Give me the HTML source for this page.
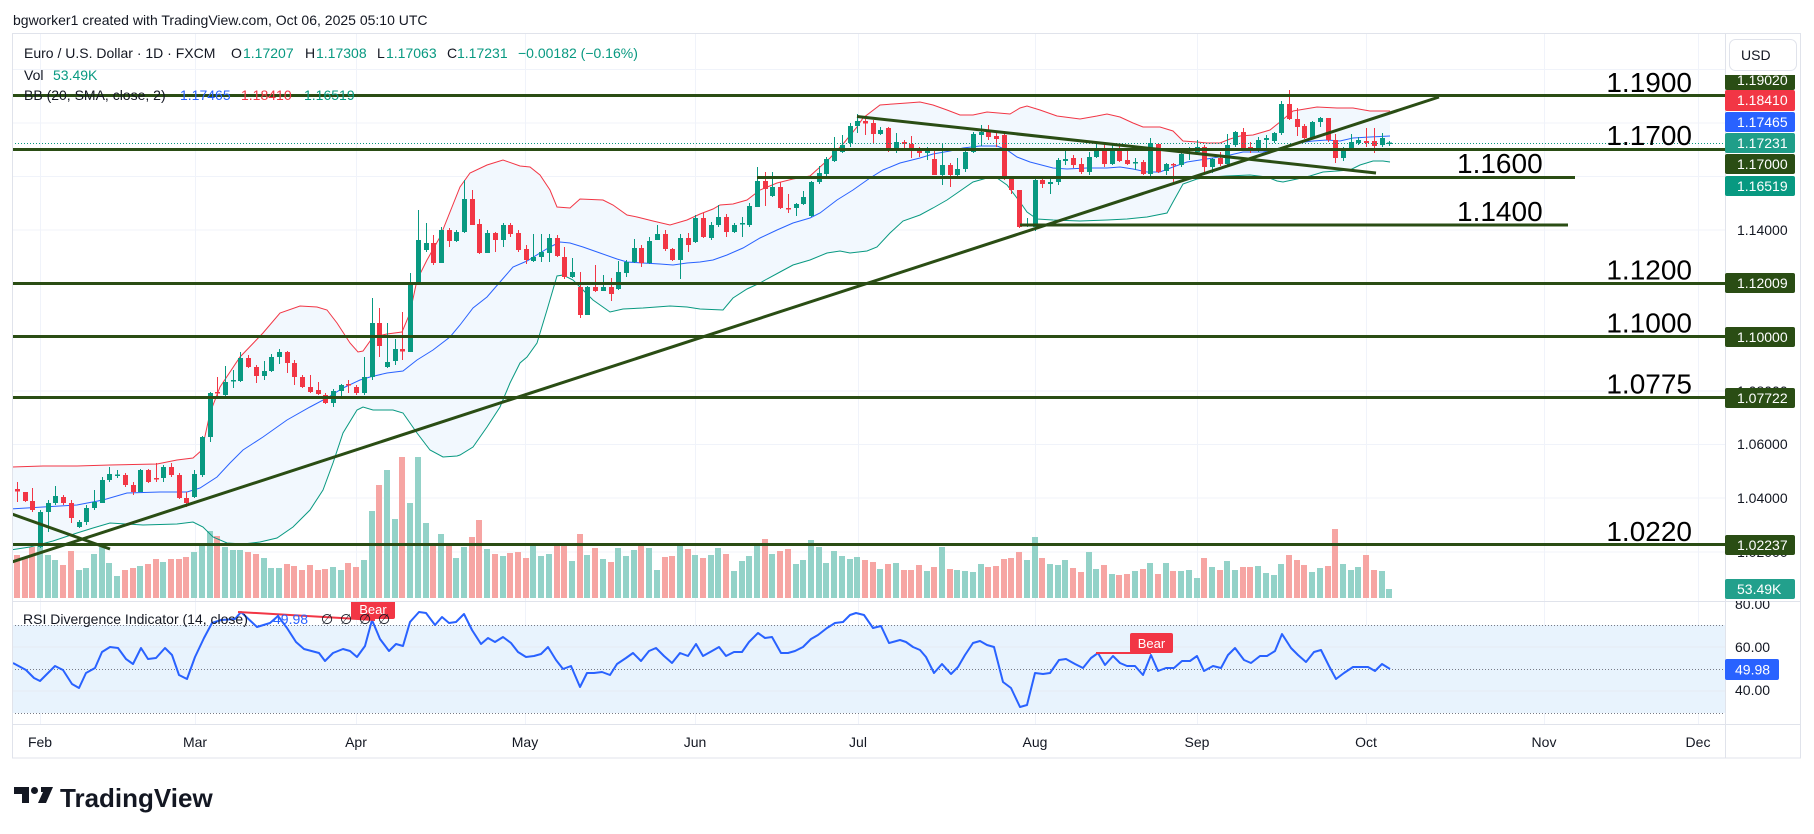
<!DOCTYPE html>
<html><head><meta charset="utf-8">
<style>
html,body{margin:0;padding:0;background:#fff;}
svg{display:block;font-family:"Liberation Sans","DejaVu Sans",sans-serif;}
</style></head>
<body>
<svg width="1814" height="834" viewBox="0 0 1814 834">
<defs>
<clipPath id="cp"><rect x="12" y="33" width="1713" height="568"/></clipPath>
<clipPath id="cr"><rect x="12" y="601" width="1713" height="123"/></clipPath>
<clipPath id="ca"><rect x="1725" y="75" width="76" height="526"/></clipPath>
<clipPath id="cra"><rect x="1725" y="601" width="76" height="123"/></clipPath>
</defs>
<rect width="1814" height="834" fill="#fff"/>

<!-- grid -->
<g stroke="#f0f3fa" stroke-width="1">
<line x1="12" y1="69.5" x2="1725" y2="69.5"/>
<line x1="12" y1="123" x2="1725" y2="123"/>
<line x1="12" y1="176.5" x2="1725" y2="176.5"/>
<line x1="12" y1="230" x2="1725" y2="230"/>
<line x1="12" y1="284" x2="1725" y2="284"/>
<line x1="12" y1="337.5" x2="1725" y2="337.5"/>
<line x1="12" y1="391" x2="1725" y2="391"/>
<line x1="12" y1="444.5" x2="1725" y2="444.5"/>
<line x1="12" y1="498" x2="1725" y2="498"/>
<line x1="12" y1="552" x2="1725" y2="552"/>
<line x1="40.5" y1="33" x2="40.5" y2="724"/>
<line x1="195.5" y1="33" x2="195.5" y2="724"/>
<line x1="356.5" y1="33" x2="356.5" y2="724"/>
<line x1="525.5" y1="33" x2="525.5" y2="724"/>
<line x1="695.5" y1="33" x2="695.5" y2="724"/>
<line x1="858.5" y1="33" x2="858.5" y2="724"/>
<line x1="1035.5" y1="33" x2="1035.5" y2="724"/>
<line x1="1197.5" y1="33" x2="1197.5" y2="724"/>
<line x1="1366.5" y1="33" x2="1366.5" y2="724"/>
<line x1="1544.5" y1="33" x2="1544.5" y2="724"/>
<line x1="1698.5" y1="33" x2="1698.5" y2="724"/>
</g>

<!-- RSI band -->
<rect x="12" y="625" width="1713" height="88" fill="#e8f3fd"/>
<g stroke="#e6ebf3" stroke-width="1">
<line x1="12" y1="647" x2="1725" y2="647"/>
<line x1="12" y1="691" x2="1725" y2="691"/>
</g>
<g stroke="#787b86" stroke-width="1" stroke-dasharray="1,2">
<line x1="12" y1="625.5" x2="1725" y2="625.5"/>
<line x1="12" y1="669.5" x2="1725" y2="669.5"/>
<line x1="12" y1="713.5" x2="1725" y2="713.5"/>
</g>

<!-- price pane content -->
<g clip-path="url(#cp)">
<polygon fill="#f2f8fe" points="10,467 43,466 77,466 110,465 157,464 177,460 193,458 202,450 210,413 220,387 240,357 263,333 280,313 300,306 317,307 327,310 337,323 350,343 358,352 363,351 373,337 387,334 402,332 410,313 417,280 427,260 440,237 460,187 470,173 487,165 503,160 520,166 530,167 540,175 550,190 557,207 570,208 580,199 603,200 613,205 627,215 637,217 653,221 670,225 687,220 700,214 713,209 720,205 733,204 747,200 760,190 777,183 793,179 810,176 820,167 830,158 843,144 857,127 863,118 880,105 893,104 907,103 920,102 933,105 947,110 960,115 973,115 987,112 1010,114 1020,108 1027,106 1040,110 1057,116 1080,119 1097,116 1107,114 1120,117 1133,123 1143,127 1160,127 1173,131 1183,141 1197,142 1207,143 1220,143 1230,139 1240,136 1253,135 1270,130 1280,122 1293,111 1317,107 1337,108 1353,108 1370,111 1390,111 1390,162 1383,161 1373,161 1360,165 1350,170 1337,171 1323,172 1310,176 1297,179 1283,182 1277,181 1267,177 1250,175 1227,176 1210,177 1197,179 1183,184 1173,202 1167,213 1147,217 1127,219 1107,220 1080,221 1053,220 1037,219 1027,212 1020,202 1007,185 997,178 987,178 973,182 960,191 947,200 933,208 920,215 903,221 890,233 877,247 867,251 850,253 840,251 827,253 810,260 793,265 780,272 767,279 760,283 747,289 733,298 723,310 700,309 687,307 670,306 643,308 623,309 610,312 593,300 583,290 573,280 563,275 557,276 547,310 537,343 527,357 520,363 510,383 500,407 487,427 473,447 460,455 457,456 443,457 430,450 417,433 403,413 393,410 373,410 363,407 357,410 343,433 333,463 323,490 310,510 293,527 277,538 260,542 243,544 227,543 213,537 203,527 193,522 177,524 143,525 110,523 93,528 77,533 53,541 30,547 10,550"/>

<path fill="#93d2c8" d="M37,545h6V598h-6zM45,555h6V598h-6zM52,560h6V598h-6zM76,570h6V598h-6zM83,568h6V598h-6zM91,554h6V598h-6zM99,547h6V598h-6zM106,563h6V598h-6zM114,576h6V598h-6zM137,566h6V598h-6zM160,562h6V598h-6zM191,552h6V598h-6zM199,546h6V598h-6zM207,531h6V598h-6zM222,547h6V598h-6zM230,550h6V598h-6zM237,550h6V598h-6zM261,558h6V598h-6zM268,568h6V598h-6zM276,568h6V598h-6zM330,567h6V598h-6zM338,570h6V598h-6zM361,560h6V598h-6zM369,511h6V598h-6zM384,470h6V598h-6zM392,519h6V598h-6zM407,503h6V598h-6zM415,457h6V598h-6zM423,523h6V598h-6zM438,534h6V598h-6zM453,558h6V598h-6zM461,547h6V598h-6zM484,549h6V598h-6zM500,556h6V598h-6zM530,545h6V598h-6zM538,556h6V598h-6zM546,554h6V598h-6zM569,561h6V598h-6zM584,555h6V598h-6zM600,559h6V598h-6zM615,548h6V598h-6zM623,556h6V598h-6zM631,550h6V598h-6zM646,548h6V598h-6zM654,570h6V598h-6zM677,545h6V598h-6zM692,555h6V598h-6zM708,555h6V598h-6zM715,548h6V598h-6zM731,571h6V598h-6zM739,561h6V598h-6zM746,556h6V598h-6zM754,545h6V598h-6zM769,554h6V598h-6zM793,564h6V598h-6zM800,560h6V598h-6zM808,540h6V598h-6zM816,547h6V598h-6zM823,563h6V598h-6zM831,551h6V598h-6zM839,556h6V598h-6zM847,559h6V598h-6zM854,557h6V598h-6zM877,569h6V598h-6zM893,563h6V598h-6zM924,571h6V598h-6zM939,547h6V598h-6zM954,570h6V598h-6zM962,571h6V598h-6zM970,572h6V598h-6zM978,564h6V598h-6zM1024,560h6V598h-6zM1032,537h6V598h-6zM1047,564h6V598h-6zM1055,565h6V598h-6zM1062,560h6V598h-6zM1086,552h6V598h-6zM1093,569h6V598h-6zM1109,574h6V598h-6zM1132,571h6V598h-6zM1147,563h6V598h-6zM1163,563h6V598h-6zM1178,571h6V598h-6zM1186,570h6V598h-6zM1194,578h6V598h-6zM1209,567h6V598h-6zM1224,561h6V598h-6zM1232,570h6V598h-6zM1255,566h6V598h-6zM1263,573h6V598h-6zM1271,575h6V598h-6zM1278,564h6V598h-6zM1309,572h6V598h-6zM1317,568h6V598h-6zM1340,564h6V598h-6zM1348,570h6V598h-6zM1355,567h6V598h-6zM1379,571h6V598h-6zM1386,589h6V598h-6z"/>
<path fill="#f6a5a3" d="M14,555h6V598h-6zM22,557h6V598h-6zM29,547h6V598h-6zM60,565h6V598h-6zM68,551h6V598h-6zM122,570h6V598h-6zM130,568h6V598h-6zM145,564h6V598h-6zM153,559h6V598h-6zM168,559h6V598h-6zM176,559h6V598h-6zM183,557h6V598h-6zM214,536h6V598h-6zM245,552h6V598h-6zM253,554h6V598h-6zM284,564h6V598h-6zM291,566h6V598h-6zM299,570h6V598h-6zM307,565h6V598h-6zM315,570h6V598h-6zM322,569h6V598h-6zM345,563h6V598h-6zM353,567h6V598h-6zM376,485h6V598h-6zM399,457h6V598h-6zM430,545h6V598h-6zM446,544h6V598h-6zM469,537h6V598h-6zM476,520h6V598h-6zM492,554h6V598h-6zM507,553h6V598h-6zM515,552h6V598h-6zM523,558h6V598h-6zM554,545h6V598h-6zM561,545h6V598h-6zM577,534h6V598h-6zM592,548h6V598h-6zM608,562h6V598h-6zM638,545h6V598h-6zM662,557h6V598h-6zM669,556h6V598h-6zM685,549h6V598h-6zM700,558h6V598h-6zM723,554h6V598h-6zM762,539h6V598h-6zM777,551h6V598h-6zM785,549h6V598h-6zM862,560h6V598h-6zM870,562h6V598h-6zM885,564h6V598h-6zM901,570h6V598h-6zM908,570h6V598h-6zM916,565h6V598h-6zM931,567h6V598h-6zM947,569h6V598h-6zM985,567h6V598h-6zM993,566h6V598h-6zM1001,559h6V598h-6zM1008,558h6V598h-6zM1016,552h6V598h-6zM1039,558h6V598h-6zM1070,568h6V598h-6zM1078,572h6V598h-6zM1101,565h6V598h-6zM1116,575h6V598h-6zM1124,574h6V598h-6zM1140,569h6V598h-6zM1155,574h6V598h-6zM1170,571h6V598h-6zM1201,558h6V598h-6zM1217,570h6V598h-6zM1240,567h6V598h-6zM1247,567h6V598h-6zM1286,555h6V598h-6zM1294,560h6V598h-6zM1301,565h6V598h-6zM1325,566h6V598h-6zM1332,529h6V598h-6zM1363,555h6V598h-6zM1371,570h6V598h-6z"/>

<polyline fill="none" stroke="#f23645" stroke-width="1" points="10,467 43,466 77,466 110,465 157,464 177,460 193,458 202,450 210,413 220,387 240,357 263,333 280,313 300,306 317,307 327,310 337,323 350,343 358,352 363,351 373,337 387,334 402,332 410,313 417,280 427,260 440,237 460,187 470,173 487,165 503,160 520,166 530,167 540,175 550,190 557,207 570,208 580,199 603,200 613,205 627,215 637,217 653,221 670,225 687,220 700,214 713,209 720,205 733,204 747,200 760,190 777,183 793,179 810,176 820,167 830,158 843,144 857,127 863,118 880,105 893,104 907,103 920,102 933,105 947,110 960,115 973,115 987,112 1010,114 1020,108 1027,106 1040,110 1057,116 1080,119 1097,116 1107,114 1120,117 1133,123 1143,127 1160,127 1173,131 1183,141 1197,142 1207,143 1220,143 1230,139 1240,136 1253,135 1270,130 1280,122 1293,111 1317,107 1337,108 1353,108 1370,111 1390,111"/>
<polyline fill="none" stroke="#2962ff" stroke-width="1" points="10,509 43,507 77,505 103,500 127,493 160,492 187,492 200,488 217,477 230,463 243,450 263,437 287,420 310,407 327,398 343,388 360,380 370,377 387,373 403,371 417,360 433,350 450,337 460,325 473,308 487,297 500,282 513,267 527,261 540,253 550,247 560,242 570,243 583,247 600,253 617,259 627,262 643,263 660,264 673,265 687,263 700,262 713,260 727,255 743,248 760,238 777,230 793,223 810,218 820,213 837,200 853,190 870,178 883,170 900,163 920,158 933,154 950,151 963,148 980,146 997,146 1007,150 1017,157 1030,162 1053,168 1067,169 1087,168 1107,168 1120,167 1133,169 1147,172 1160,172 1173,167 1187,162 1200,160 1213,158 1230,155 1243,152 1263,152 1280,148 1297,143 1313,141 1327,140 1340,141 1353,138 1370,137 1390,136"/>
<polyline fill="none" stroke="#089981" stroke-width="1" points="10,550 30,547 53,541 77,533 93,528 110,523 143,525 177,524 193,522 203,527 213,537 227,543 243,544 260,542 277,538 293,527 310,510 323,490 333,463 343,433 357,410 363,407 373,410 393,410 403,413 417,433 430,450 443,457 457,456 460,455 473,447 487,427 500,407 510,383 520,363 527,357 537,343 547,310 557,276 563,275 573,280 583,290 593,300 610,312 623,309 643,308 670,306 687,307 700,309 723,310 733,298 747,289 760,283 767,279 780,272 793,265 810,260 827,253 840,251 850,253 867,251 877,247 890,233 903,221 920,215 933,208 947,200 960,191 973,182 987,178 997,178 1007,185 1020,202 1027,212 1037,219 1053,220 1080,221 1107,220 1127,219 1147,217 1167,213 1173,202 1183,184 1197,179 1210,177 1227,176 1250,175 1267,177 1277,181 1283,182 1297,179 1310,176 1323,172 1337,171 1350,170 1360,165 1373,161 1383,161 1390,162"/>

<path fill="none" stroke="#089981" stroke-width="1" d="M40.5,510V548M48.5,500V532M55.5,486V505M79.5,520V528M86.5,505V525M94.5,490V510M102.5,477V503M109.5,467V482M117.5,470V478M140.5,469V492M163.5,465V482M194.5,470V498M202.5,436V477M210.5,392V442M225.5,366V397M233.5,370V388M240.5,352V382M264.5,361V380M271.5,354V372M279.5,349V364M333.5,389V407M341.5,384V398M364.5,357V395M372.5,298V380M387.5,323V368M395.5,339V365M410.5,273V352M418.5,210V285M426.5,223V252M441.5,227V263M456.5,230V242M464.5,180V233M487.5,230V253M503.5,223V247M533.5,234V262M541.5,234V262M549.5,234V262M572.5,258V278M587.5,286V315M603.5,275V291M618.5,261V290M626.5,260V277M634.5,239V263M649.5,237V264M657.5,225V240M680.5,234V279M695.5,215V243M711.5,222V240M718.5,205V227M734.5,223V233M742.5,217V237M749.5,203V227M757.5,167V207M772.5,172V197M796.5,203V216M803.5,191V205M811.5,181V217M819.5,166V184M826.5,157V176M834.5,137V162M842.5,135V153M850.5,123V147M857.5,114V133M880.5,127V135M896.5,133V153M927.5,147V160M942.5,143V185M957.5,158V177M965.5,149V172M973.5,132V153M981.5,125V146M1027.5,218V227M1035.5,179V231M1050.5,178V194M1058.5,158V185M1065.5,151V165M1089.5,152V175M1096.5,143V158M1112.5,144V165M1135.5,158V170M1150.5,138V179M1166.5,163V175M1181.5,152V167M1189.5,147V160M1197.5,140V155M1212.5,158V173M1227.5,134V165M1235.5,131V147M1258.5,137V152M1266.5,135V148M1274.5,132V143M1281.5,101V135M1312.5,121V138M1320.5,117V127M1343.5,147V161M1351.5,134V151M1358.5,137V145M1382.5,133V147M1389.5,141V146"/>
<path fill="#089981" d="M38,512h5v35h-5zM46,503h5v9h-5zM53,496h5v7h-5zM77,522h5v5h-5zM84,508h5v14h-5zM92,502h5v6h-5zM100,480h5v23h-5zM107,474h5v6h-5zM115,474.5h5v1.5h-5zM138,470h5v22h-5zM161,467h5v11h-5zM192,474h5v23h-5zM200,437h5v38h-5zM208,393h5v44h-5zM223,382h5v13h-5zM231,380h5v1.5h-5zM238,358h5v23h-5zM262,371h5v5h-5zM269,357h5v14h-5zM277,352h5v5h-5zM331,391h5v12h-5zM339,385h5v6h-5zM362,377h5v16h-5zM370,323h5v54h-5zM385,362h5v5h-5zM393,349h5v12h-5zM408,283h5v69h-5zM416,240h5v43h-5zM424,243h5v7h-5zM439,230h5v33h-5zM454,232h5v9h-5zM462,199h5v33h-5zM485,233h5v20h-5zM501,225h5v15h-5zM531,257h5v4h-5zM539,252h5v5h-5zM547,238h5v15h-5zM570,272h5v5h-5zM585,287h5v28h-5zM601,287h5v4h-5zM616,272h5v17h-5zM624,262h5v11h-5zM632,248h5v14h-5zM647,241h5v22h-5zM655,234h5v6h-5zM678,238h5v22h-5zM693,218h5v24h-5zM709,225h5v13h-5zM716,217h5v8h-5zM732,225h5v7h-5zM740,223h5v1.5h-5zM747,206h5v19h-5zM755,181h5v26h-5zM770,187h5v9h-5zM794,204h5v4h-5zM801,197h5v7h-5zM809,182h5v34h-5zM817,173h5v9h-5zM824,159h5v15h-5zM832,151h5v10h-5zM840,145h5v7h-5zM848,126h5v17h-5zM855,121h5v5h-5zM878,130h5v4h-5zM894,142h5v7h-5zM925,150h5v3h-5zM940,165h5v10h-5zM955,169h5v6h-5zM963,152h5v17h-5zM971,134h5v18h-5zM979,132h5v3h-5zM1025,224h5v1.5h-5zM1033,180h5v47h-5zM1048,182h5v2h-5zM1056,160h5v22h-5zM1063,159h5v2h-5zM1087,157h5v15h-5zM1094,148h5v9h-5zM1110,148h5v16h-5zM1133,162h5v1.5h-5zM1148,143h5v31h-5zM1164,164h5v7h-5zM1179,154h5v11h-5zM1187,152h5v2h-5zM1195,147h5v5h-5zM1210,159h5v8h-5zM1225,145h5v19h-5zM1233,132h5v13h-5zM1256,140h5v9h-5zM1264,138h5v2h-5zM1272,133h5v8h-5zM1279,104h5v29h-5zM1310,122h5v16h-5zM1318,118h5v4h-5zM1341,150h5v8h-5zM1349,142h5v8h-5zM1356,140h5v3h-5zM1380,138h5v7h-5zM1387,142.5h5v1.5h-5z"/>
<path fill="none" stroke="#f23645" stroke-width="1" d="M17.5,482V502M25.5,492V502M32.5,488V512M63.5,495V505M71.5,500V523M125.5,473V487M133.5,482V495M148.5,469V483M156.5,463V482M171.5,463V477M179.5,473V499M186.5,492V507M217.5,377V398M248.5,355V368M256.5,365V383M287.5,351V373M294.5,360V385M302.5,375V388M310.5,375V393M318.5,382V395M325.5,393V404M348.5,380V393M356.5,385V395M379.5,308V357M402.5,312V360M433.5,235V265M449.5,228V247M472.5,190V225M479.5,219V254M495.5,232V252M510.5,223V237M518.5,230V252M526.5,245V264M557.5,235V257M564.5,247V279M580.5,272V318M595.5,265V292M611.5,278V301M641.5,245V267M665.5,230V251M672.5,248V261M688.5,233V252M703.5,213V238M726.5,214V237M765.5,172V206M780.5,182V209M788.5,194V213M865.5,119V135M873.5,120V143M888.5,127V152M904.5,140V151M911.5,136V158M919.5,147V157M934.5,151V175M950.5,163V187M988.5,125V140M996.5,131V147M1004.5,131V180M1011.5,179V194M1019.5,190V228M1042.5,178V188M1073.5,155V168M1081.5,158V174M1104.5,145V167M1119.5,143V162M1127.5,151V165M1143.5,160V175M1158.5,143V173M1173.5,163V182M1204.5,145V172M1220.5,152V166M1243.5,128V150M1250.5,142V153M1289.5,90V120M1297.5,108V136M1304.5,124V139M1328.5,118V142M1335.5,134V163M1366.5,128V147M1374.5,128V153"/>
<path fill="#f23645" d="M15,489h5v2.5h-5zM23,492h5v9h-5zM30,501h5v9h-5zM61,497h5v6h-5zM69,503h5v15h-5zM123,475h5v10h-5zM131,485h5v7h-5zM146,470h5v12h-5zM154,478h5v1.5h-5zM169,467h5v8h-5zM177,475h5v23h-5zM184,498h5v5h-5zM215,392h5v1.5h-5zM246,358h5v9h-5zM254,367h5v9h-5zM285,352h5v11h-5zM292,363h5v14h-5zM300,377h5v10h-5zM308,387h5v5h-5zM316,390h5v4h-5zM323,395h5v8h-5zM346,384h5v1.5h-5zM354,387h5v6h-5zM377,323h5v23h-5zM400,349h5v2.5h-5zM431,243h5v20h-5zM447,230h5v11h-5zM470,199h5v26h-5zM477,224h5v29h-5zM493,233h5v7h-5zM508,225h5v9h-5zM516,233h5v17h-5zM524,249h5v11h-5zM555,238h5v18h-5zM562,257h5v20h-5zM578,287h5v28h-5zM593,287h5v4h-5zM609,287h5v7h-5zM639,248h5v15h-5zM663,234h5v15h-5zM670,249h5v11h-5zM686,238h5v7h-5zM701,218h5v19h-5zM724,217h5v15h-5zM763,181h5v8h-5zM778,187h5v21h-5zM786,208h5v1.5h-5zM863,121h5v2.5h-5zM871,123h5v11h-5zM886,128h5v21h-5zM902,142h5v2h-5zM909,144h5v5h-5zM917,150h5v3h-5zM932,159h5v16h-5zM948,165h5v10h-5zM986,132h5v5h-5zM994,136h5v3h-5zM1002,135h5v44h-5zM1009,179h5v11h-5zM1017,190h5v37h-5zM1040,180h5v4h-5zM1071,158h5v7h-5zM1079,164h5v8h-5zM1102,148h5v16h-5zM1117,148h5v13h-5zM1125,160h5v4h-5zM1141,162h5v12h-5zM1156,144h5v28h-5zM1171,164h5v1.5h-5zM1202,147h5v20h-5zM1218,158h5v6h-5zM1241,132h5v16h-5zM1248,147h5v2.5h-5zM1287,104h5v15h-5zM1295,119h5v8h-5zM1302,126h5v12h-5zM1326,118h5v22h-5zM1333,140h5v18h-5zM1364,141h5v2h-5zM1372,141h5v5h-5z"/>
</g>

<!-- RSI line -->
<g clip-path="url(#cr)">
<polyline fill="none" stroke="#2962ff" stroke-width="2" stroke-linejoin="round" points="13,663 26,670 34,678 40,681 55,666 63,670 72,684 79,688 86,673 95,668 102,652 110,647 118,648 126,659 133,664 141,648 148,659 156,658 165,648 172,655 179,675 187,679 195,657 204,638 212,623 221,620 235,619 241,612 257,627 270,623 278,616 287,628 296,642 304,649 319,653 325,661 333,653 343,649 350,651 357,657 365,646 372,620 380,639 389,651 396,644 403,646 410,622 419,612 426,613 435,625 442,617 449,623 456,622 464,614 472,630 481,644 488,638 495,642 503,637 511,643 518,652 526,657 534,656 541,654 548,647 556,660 563,669 571,666 580,687 587,673 594,673 602,672 610,675 617,664 626,658 633,653 641,661 649,651 656,648 664,656 672,663 680,653 688,656 696,644 703,656 712,651 719,647 726,656 734,652 742,652 749,642 758,633 765,638 772,637 781,653 788,653 795,651 803,647 811,639 818,635 827,628 835,623 843,622 850,615 856,613 864,615 873,628 881,626 889,643 900,640 906,642 913,647 920,650 926,657 934,673 942,664 951,674 958,667 965,655 973,643 980,641 987,645 994,647 1003,682 1011,688 1020,707 1027,705 1035,673 1043,674 1050,673 1059,660 1066,659 1075,664 1083,668 1091,658 1098,653 1105,665 1113,656 1120,663 1127,666 1135,666 1143,675 1151,655 1158,671 1166,668 1174,668 1182,661 1190,661 1197,656 1204,671 1213,666 1221,668 1228,655 1235,648 1244,660 1251,663 1260,656 1267,656 1275,651 1282,634 1291,648 1298,655 1306,662 1314,652 1321,650 1329,666 1336,679 1344,673 1353,667 1361,667 1368,667 1375,671 1382,664 1390,669"/>
</g>

<!-- current price dotted line -->
<line x1="12" y1="143.5" x2="1725" y2="143.5" stroke="#089981" stroke-width="1" stroke-dasharray="1,2"/>

<!-- drawings -->
<g stroke="#2a4d14" stroke-width="3" clip-path="url(#cp)">
<line x1="12" y1="95.5" x2="1725" y2="95.5"/>
<line x1="12" y1="149.5" x2="1725" y2="149.5"/>
<line x1="757" y1="177.5" x2="1575" y2="177.5"/>
<line x1="1020" y1="225" x2="1568" y2="225"/>
<line x1="12" y1="283.5" x2="1725" y2="283.5"/>
<line x1="12" y1="336.5" x2="1725" y2="336.5"/>
<line x1="12" y1="397.5" x2="1725" y2="397.5"/>
<line x1="12" y1="544.5" x2="1725" y2="544.5"/>
<line x1="12" y1="562" x2="1439" y2="97"/>
<line x1="857" y1="116.5" x2="1376" y2="173"/>
<line x1="12" y1="514" x2="110" y2="549"/>
</g>
<g font-size="28" fill="#000">
<text x="1692" y="92" text-anchor="end">1.1900</text>
<text x="1692" y="145" text-anchor="end">1.1700</text>
<text x="1457" y="173">1.1600</text>
<text x="1457" y="221">1.1400</text>
<text x="1692" y="279.5" text-anchor="end">1.1200</text>
<text x="1692" y="332.5" text-anchor="end">1.1000</text>
<text x="1692" y="393.5" text-anchor="end">1.0775</text>
<text x="1692" y="541" text-anchor="end">1.0220</text>
</g>

<!-- RSI divergence -->
<g clip-path="url(#cr)">
<line x1="238" y1="612" x2="375" y2="620" stroke="#f23645" stroke-width="2"/>
<line x1="1096" y1="653" x2="1151" y2="653" stroke="#f23645" stroke-width="2"/>
<rect x="351" y="599" width="44" height="20" rx="2" fill="#f23645"/>
<text x="373" y="614" font-size="13" fill="#fff" text-anchor="middle">Bear</text>
<rect x="1130" y="633" width="43" height="20" rx="2" fill="#f23645"/>
<text x="1151.5" y="648" font-size="13" fill="#fff" text-anchor="middle">Bear</text>
</g>

<!-- legends -->
<g font-size="14" fill="#131722">
<text x="13" y="25">bgworker1 created with TradingView.com, Oct 06, 2025 05:10 UTC</text>
<text y="58"><tspan x="24">Euro / U.S. Dollar · 1D · FXCM</tspan><tspan x="231">O</tspan><tspan x="243" fill="#089981">1.17207</tspan><tspan x="305">H</tspan><tspan x="316" fill="#089981">1.17308</tspan><tspan x="377">L</tspan><tspan x="386" fill="#089981">1.17063</tspan><tspan x="447">C</tspan><tspan x="457" fill="#089981">1.17231</tspan><tspan x="518" fill="#089981">−0.00182 (−0.16%)</tspan></text>
<text y="80"><tspan x="24">Vol</tspan><tspan x="53" fill="#089981">53.49K</tspan></text>
<text y="100"><tspan x="24">BB (20, SMA, close, 2)</tspan><tspan x="180" fill="#2962ff">1.17465</tspan><tspan x="241" fill="#f23645">1.18410</tspan><tspan x="304" fill="#089981">1.16519</tspan></text>
<text y="624"><tspan x="23">RSI Divergence Indicator (14, close)</tspan><tspan x="273" fill="#2962ff">49.98</tspan><tspan x="321">∅</tspan><tspan x="340">∅</tspan><tspan x="359">∅</tspan><tspan x="378">∅</tspan></text>
</g>

<!-- frame -->
<g stroke="#e0e3eb" stroke-width="1" fill="none">
<rect x="12.5" y="33.5" width="1788" height="724.5"/>
<line x1="12" y1="601.5" x2="1801" y2="601.5"/>
<line x1="12" y1="724.5" x2="1801" y2="724.5"/>
<line x1="1725.5" y1="33" x2="1725.5" y2="758"/>
</g>

<!-- price axis labels -->
<g font-size="14" fill="#131722" clip-path="url(#ca)">
<text x="1737" y="235">1.14000</text>
<text x="1737" y="396">1.08000</text>
<text x="1737" y="449">1.06000</text>
<text x="1737" y="503">1.04000</text>
<text x="1737" y="557">1.02000</text>
<rect x="1725" y="70" width="70" height="20" rx="2" fill="#2a4d14"/>
<text x="1737" y="85" fill="#fff">1.19020</text>
<rect x="1725" y="90" width="70" height="21" rx="2" fill="#f23645"/>
<text x="1737" y="105" fill="#fff">1.18410</text>
<rect x="1725" y="112" width="70" height="20" rx="2" fill="#2962ff"/>
<text x="1737" y="127" fill="#fff">1.17465</text>
<rect x="1725" y="133" width="70" height="20" rx="2" fill="#1f9e89"/>
<text x="1737" y="148" fill="#fff">1.17231</text>
<rect x="1725" y="154" width="70" height="20" rx="2" fill="#2a4d14"/>
<text x="1737" y="169" fill="#fff">1.17000</text>
<rect x="1725" y="176" width="70" height="20" rx="2" fill="#089981"/>
<text x="1737" y="191" fill="#fff">1.16519</text>
<rect x="1725" y="273" width="70" height="20" rx="2" fill="#2a4d14"/>
<text x="1737" y="288" fill="#fff">1.12009</text>
<rect x="1725" y="327" width="70" height="20" rx="2" fill="#2a4d14"/>
<text x="1737" y="342" fill="#fff">1.10000</text>
<rect x="1725" y="388" width="70" height="20" rx="2" fill="#2a4d14"/>
<text x="1737" y="403" fill="#fff">1.07722</text>
<rect x="1725" y="535" width="70" height="20" rx="2" fill="#2a4d14"/>
<text x="1737" y="550" fill="#fff">1.02237</text>
<rect x="1725" y="579" width="70" height="20" rx="2" fill="#22a08c"/>
<text x="1737" y="594" fill="#fff">53.49K</text>
</g>
<rect x="1729.5" y="39.5" width="67" height="31" rx="6" fill="#fff" stroke="#e0e3eb"/>
<text x="1741" y="60" font-size="14" fill="#131722">USD</text>

<!-- RSI axis -->
<g font-size="14" fill="#131722" clip-path="url(#cra)">
<text x="1735" y="609">80.00</text>
<text x="1735" y="652">60.00</text>
<text x="1735" y="695">40.00</text>
<rect x="1725" y="659" width="54" height="21" rx="2" fill="#2962ff"/>
<text x="1735" y="674.5" fill="#fff">49.98</text>
</g>

<!-- time axis -->
<g font-size="14" fill="#131722" text-anchor="middle">
<text x="40" y="747">Feb</text>
<text x="195" y="747">Mar</text>
<text x="356" y="747">Apr</text>
<text x="525" y="747">May</text>
<text x="695" y="747">Jun</text>
<text x="858" y="747">Jul</text>
<text x="1035" y="747">Aug</text>
<text x="1197" y="747">Sep</text>
<text x="1366" y="747">Oct</text>
<text x="1544" y="747">Nov</text>
<text x="1698" y="747">Dec</text>
</g>

<!-- footer logo -->
<g fill="#131722">
<path d="M14 787h15v16h-7v-9h-8z"/>
<circle cx="34.5" cy="790.5" r="3.5"/>
<path d="M41 787h12l-7 16h-8l5-11h-2z"/>
<text x="60" y="807" font-size="26" font-weight="bold">TradingView</text>
</g>
</svg>
</body></html>
